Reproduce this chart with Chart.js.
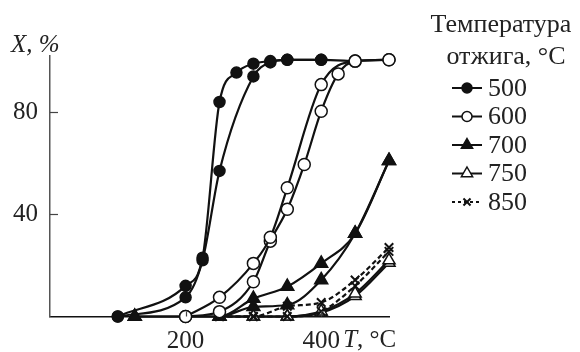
<!DOCTYPE html>
<html>
<head>
<meta charset="utf-8">
<script src="https://cdn.jsdelivr.net/npm/chart.js@4/dist/chart.umd.min.js"></script>
<style>
html,body{margin:0;padding:0;background:#fff;}
#wrap{width:580px;height:352px;}
</style>
</head>
<body>
<div id="wrap"><canvas id="c" width="580" height="352"></canvas></div>
<script>
// ---- data ----
const xTicks = [200, 400];
const yTicks = [40, 80];
const legendTitle = ["Температура", "отжига, °C"];
const seriesNames = ["500", "600", "700", "750", "850"];

const t500a = [100, 200, 225, 250, 275, 300, 325, 350, 400, 450];
const x500a = [0, 12, 23, 84, 95.5, 99, 100, 100.5, 100.5, 100];
const t500b = [100, 200, 225, 250, 300, 325, 350, 400];
const x500b = [0, 7.5, 22, 57, 94, 99.5, 100.5, 100.5];

const t600a = [200, 250, 300, 325, 350, 400, 450, 500];
const x600a = [0, 7.5, 20.8, 31, 50.4, 90.8, 100, 100.5];
const t600b = [200, 250, 300, 325, 350, 375, 400, 425, 450, 500];
const x600b = [0, 1.9, 13.6, 29.5, 42, 59.5, 80.4, 95, 100, 100.5];

const t700a = [125, 250, 300, 350, 400, 450, 500];
const x700a = [0, 0, 7, 11.7, 20.8, 32.5, 61];
const t700b = [125, 250, 300, 350, 400, 450, 500];
const x700b = [0, 0, 3.8, 4.5, 14.3, 32.5, 61];

const t750a = [250, 300, 350, 400, 450, 500];
const x750a = [0, 0, 0, 2, 9, 22];
const t750b = [250, 300, 350, 400, 450, 500];
const x750b = [0, 0, 0, 1.5, 8, 21];

const t850a = [250, 300, 350, 400, 450, 500];
const x850a = [0, 0, 4, 5.5, 14.3, 27];
const t850b = [250, 300, 350, 400, 450, 500];
const x850b = [0, 0, 0, 2, 12, 25.5];

// ---- styles ----
const INK = '#111';
const TXT = '#222';
const SERIF = '"Liberation Serif", "Times New Roman", serif';

const styles = {
  "500": {pointStyle: 'circle', fill: INK, r: 5.5, dash: []},
  "600": {pointStyle: 'circle', fill: '#fff', r: 6, dash: []},
  "700": {pointStyle: 'triangle', fill: INK, r: 7.5, dash: []},
  "750": {pointStyle: 'triangle', fill: '#fff', r: 7, dash: []},
  "850": {pointStyle: 'crossRot', fill: '#fff', r: 6, dash: [5, 3]}
};

function zip(t, v) { return t.map((x, i) => ({x: x, y: v[i]})); }

function makeDs(name, t, v, order) {
  const s = styles[name];
  return {
    label: name,
    data: zip(t, v),
    borderColor: INK,
    borderWidth: 2.2,
    borderDash: s.dash,
    pointStyle: s.pointStyle,
    pointRadius: s.r,
    pointBackgroundColor: s.fill,
    pointBorderColor: INK,
    pointBorderWidth: s.pointStyle === 'crossRot' ? 2 : 1.5,
    cubicInterpolationMode: 'monotone',
    tension: 0.4,
    clip: false,
    order: order
  };
}

const datasets = [
  makeDs("500", t500a, x500a, 5),
  makeDs("500", t500b, x500b, 5),
  makeDs("600", t600a, x600a, 1),
  makeDs("600", t600b, x600b, 1),
  makeDs("700", t700a, x700a, 2),
  makeDs("700", t700b, x700b, 2),
  makeDs("750", t750a, x750a, 4),
  makeDs("750", t750b, x750b, 4),
  makeDs("850", t850a, x850a, 3),
  makeDs("850", t850b, x850b, 3)
];

function drawMarker(ctx, style, x, y, r) {
  ctx.save();
  ctx.strokeStyle = INK;
  ctx.fillStyle = style.fill;
  ctx.lineWidth = 1.5;
  ctx.setLineDash([]);
  ctx.beginPath();
  if (style.pointStyle === 'circle') {
    ctx.arc(x, y, r, 0, Math.PI * 2);
    ctx.fill(); ctx.stroke();
  } else if (style.pointStyle === 'triangle') {
    ctx.moveTo(x, y - r);
    ctx.lineTo(x + r * 0.866, y + r * 0.5);
    ctx.lineTo(x - r * 0.866, y + r * 0.5);
    ctx.closePath();
    ctx.fill(); ctx.stroke();
  } else {
    const d = r * 0.707;
    ctx.lineWidth = 2;
    ctx.moveTo(x - d, y - d); ctx.lineTo(x + d, y + d);
    ctx.moveTo(x + d, y - d); ctx.lineTo(x - d, y + d);
    ctx.stroke();
  }
  ctx.restore();
}

const extras = {
  id: 'extras',
  afterDraw(chart) {
    const ctx = chart.ctx;
    const xs = chart.scales.x, ys = chart.scales.y;
    const x0 = xs.left, y0 = ys.bottom;
    ctx.save();
    // inward tick marks
    ctx.strokeStyle = '#444';
    ctx.lineWidth = 1.2;
    yTicks.forEach(v => {
      const py = Math.round(ys.getPixelForValue(v)) + 0.5;
      ctx.beginPath(); ctx.moveTo(x0, py); ctx.lineTo(x0 + 8, py); ctx.stroke();
    });
    xTicks.forEach(v => {
      const px = Math.round(xs.getPixelForValue(v)) + 0.5;
      ctx.beginPath(); ctx.moveTo(px, y0); ctx.lineTo(px, y0 - 5); ctx.stroke();
    });
    // axis titles
    ctx.fillStyle = TXT;
    ctx.textBaseline = 'middle';
    ctx.textAlign = 'left';
    ctx.font = 'italic 25px ' + SERIF;
    ctx.fillText('X, %', 11, 45);
    const tx = xs.getPixelForValue(400) + 22;
    const ty = 340;
    ctx.font = 'italic 25px ' + SERIF;
    ctx.fillText('T', tx, ty);
    const tw = ctx.measureText('T').width;
    ctx.font = '25px ' + SERIF;
    ctx.fillText(', °C', tx + tw, ty);
    // legend
    ctx.textAlign = 'center';
    ctx.font = '26px ' + SERIF;
    ctx.fillText(legendTitle[0], 501, 25);
    ctx.fillText(legendTitle[1], 506, 57);
    ctx.textAlign = 'left';
    seriesNames.forEach((n, i) => {
      const ly = 88 + i * 28.5;
      const s = styles[n];
      ctx.save();
      ctx.strokeStyle = INK;
      ctx.lineWidth = 2;
      ctx.setLineDash(n === '850' ? [3, 3] : []);
      ctx.beginPath(); ctx.moveTo(452, ly); ctx.lineTo(482, ly); ctx.stroke();
      ctx.restore();
      drawMarker(ctx, s, 467, ly, s.pointStyle === 'triangle' ? 6.5 : 5);
      ctx.fillStyle = TXT;
      ctx.font = '26px ' + SERIF;
      ctx.fillText(n, 488, ly + 1);
    });
    ctx.restore();
  }
};

new Chart(document.getElementById('c'), {
  type: 'line',
  data: {datasets: datasets},
  options: {
    responsive: false,
    animation: false,
    devicePixelRatio: 1,
    layout: {padding: {left: 0, top: 56, right: 191, bottom: 0}},
    plugins: {legend: {display: false}, tooltip: {enabled: false}},
    scales: {
      x: {
        type: 'linear', min: 0, max: 500,
        afterFit: s => { s.height = 35.5; },
        afterBuildTicks: s => { s.ticks = xTicks.map(v => ({value: v})); },
        grid: {display: false, drawTicks: false},
        border: {display: true, color: '#111', width: 1.5},
        ticks: {color: TXT, padding: 10, maxRotation: 0, autoSkip: false,
                font: {family: SERIF, size: 25}}
      },
      y: {
        type: 'linear', min: 0, max: 102,
        afterFit: s => { s.width = 50; },
        afterBuildTicks: s => { s.ticks = yTicks.map(v => ({value: v})); },
        grid: {display: false, drawTicks: false},
        border: {display: true, color: '#555', width: 1.5},
        ticks: {color: TXT, padding: 12, font: {family: SERIF, size: 25}}
      }
    }
  },
  plugins: [extras]
});
</script>
</body>
</html>
